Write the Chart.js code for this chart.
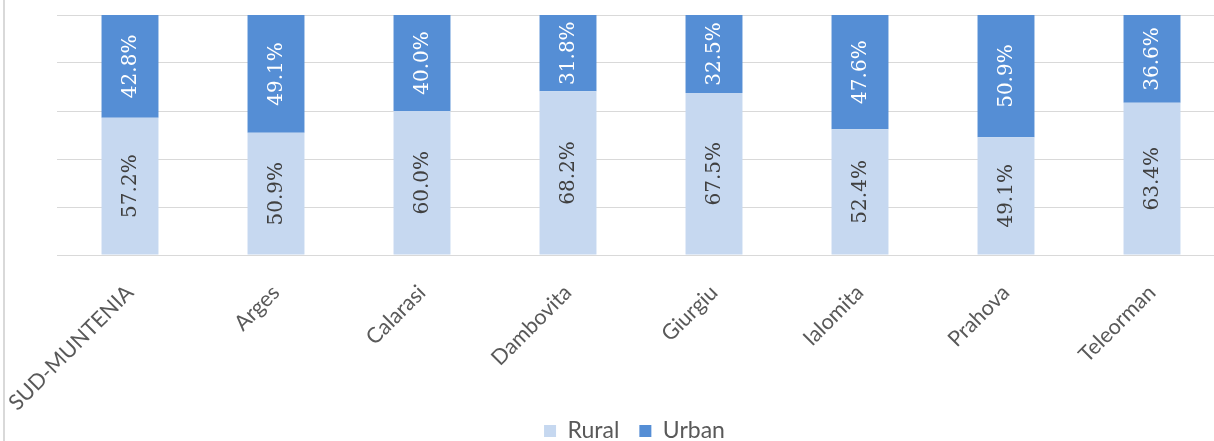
<!DOCTYPE html>
<html><head><meta charset="utf-8">
<script src="https://cdn.jsdelivr.net/npm/chart.js@4.4.1/dist/chart.umd.min.js"></script>
<style>
html,body{margin:0;padding:0;background:#fff;overflow:hidden;width:1214px;height:441px;}
#wrap{position:absolute;left:0;top:0;width:1240px;height:441px;}
#frame{position:absolute;left:3px;top:0;width:2px;height:441px;background:#d9d9d9;}
</style></head><body>
<div id="wrap"><canvas id="c"></canvas></div>
<div id="frame"></div>
<script>
const categories = ['SUD-MUNTENIA','Arges','Calarasi','Dambovita','Giurgiu','Ialomita','Prahova','Teleorman'];
const rural = [57.2, 50.9, 60.0, 68.2, 67.5, 52.4, 49.1, 63.4];
const urban = [42.8, 49.1, 40.0, 31.8, 32.5, 47.6, 50.9, 36.6];
const seriesNames = ['Rural','Urban'];
const yTickValues = [0,20,40,60,80,100];

const ruralColor = '#c6d8f0';
const urbanColor = '#558ed5';

const barLabels = {
  id: 'barLabels',
  afterDatasetsDraw(chart){
    const ctx = chart.ctx;
    chart.data.datasets.forEach((ds, di) => {
      const meta = chart.getDatasetMeta(di);
      meta.data.forEach((bar, i) => {
        const p = bar.getProps(['x','y','base'], true);
        const cy = (p.y + p.base) / 2;
        ctx.save();
        ctx.translate(p.x + 1, cy);
        ctx.rotate(-Math.PI/2);
        ctx.font = '20px "DejaVu Serif"';
        ctx.fillStyle = di === 0 ? '#404040' : '#ffffff';
        ctx.textAlign = 'center';
        ctx.textBaseline = 'middle';
        ctx.fillText(ds.data[i].toFixed(1) + '%', 0, 0);
        ctx.restore();
      });
    });
  }
};

const unclipX = {
  id: 'unclipX',
  afterLayout(chart){ chart.scales.x.bottom = chart.height; }
};

new Chart(document.getElementById('c'), {
  type: 'bar',
  data: {
    labels: categories,
    datasets: [
      {label: seriesNames[0], data: rural, backgroundColor: ruralColor, borderWidth: 0},
      {label: seriesNames[1], data: urban, backgroundColor: urbanColor, borderWidth: 0}
    ]
  },
  options: {
    responsive: true,
    maintainAspectRatio: false,
    animation: false,
    layout: {padding: {left: 44, right: 15, top: 15, bottom: -11.5}},
    datasets: {bar: {categoryPercentage: 1.0, barPercentage: 0.39}},
    plugins: {
      tooltip: {enabled: false},
      legend: {
        position: 'bottom',
        labels: {
          boxWidth: 12, boxHeight: 12, padding: 20,
          color: '#595959',
          font: {family: 'Lato', size: 23}
        }
      }
    },
    scales: {
      x: {
        stacked: true,
        grid: {display: false},
        border: {display: false},
        ticks: {
          minRotation: 45, maxRotation: 45, padding: 17,
          color: '#595959',
          font: {family: 'Lato', size: 21.5},
          autoSkip: false
        },
        afterFit(scale){ scale.height = 144.5; scale.paddingLeft = 0; scale.paddingRight = 0; }
      },
      y: {
        stacked: true,
        min: 0, max: 100,
        afterBuildTicks(scale){ scale.ticks = yTickValues.map(v => ({value: v})); },
        grid: {color: '#d9d9d9', lineWidth: 1, drawTicks: false},
        border: {display: false},
        ticks: {display: false},
        afterFit(scale){ scale.width = 13; }
      }
    }
  },
  plugins: [barLabels, unclipX]
});
</script>
</body></html>
